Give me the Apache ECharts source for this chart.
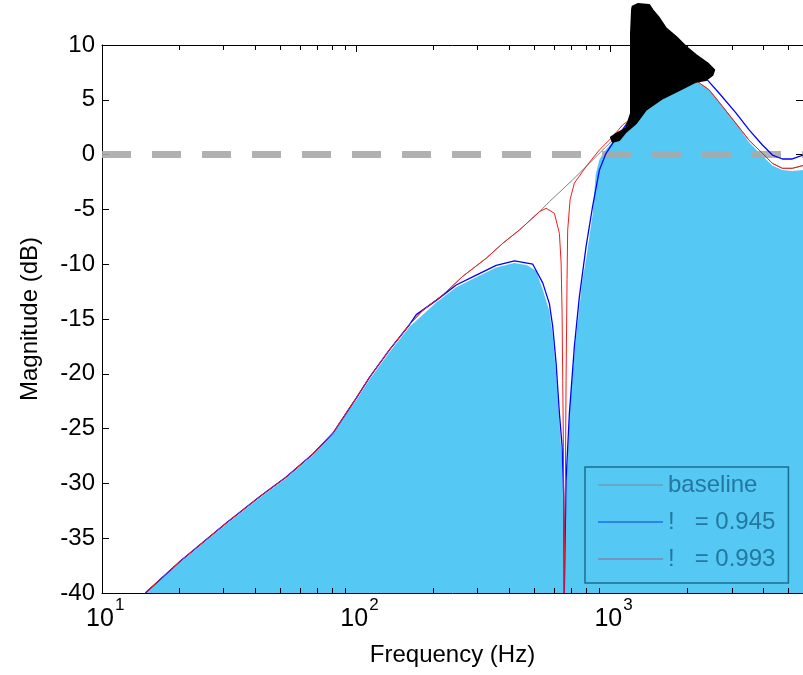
<!DOCTYPE html>
<html><head><meta charset="utf-8">
<script src="https://cdn.jsdelivr.net/npm/echarts@6/dist/echarts.min.js"></script>
<style>html,body{margin:0;padding:0;background:#fff}#c{width:803px;height:675px}</style>
</head><body><div id="c"></div>
<script>
// ---- axis settings / tick values ----
const xMin = 10, xMax = 5728;
const yMin = -40, yMax = 10, yStep = 5;
const xMajorTicks = [10, 100, 1000];
const xMinorTicks = [20,30,40,50,60,70,80,90,200,300,400,500,600,700,800,900,2000,3000,4000,5000];
const seriesNames = ['baseline', '!   = 0.945', '!   = 0.993'];

// ---- baseline (grey) ----
const baseFreq = [14.8,20.3,30.9,41.8,53.2,67.7,81.1,94.3,100.2,113,135.4,162.3,183,219.3,262.8,324.8,377.5,438.9,526,575.6,711,778,961.7,1084,1262,1654,1953,2203,2449,2762,3119,3516,3966,4342,4753,5200,5728];
const baseDb   = [-40,-37.1,-33.6,-31.2,-29.4,-27.3,-25.4,-23.1,-22.2,-20.3,-17.8,-15.5,-14.2,-12.8,-11.1,-9.46,-8.09,-6.88,-5.21,-4.3,-2.3,-1.4,0.72,1.9,3.6,5.7,6.4,6.65,5.9,4.4,2.85,1.3,0.12,-0.8,-1.25,-1.25,-1.0];

// ---- zeta = 0.945 (blue) ----
const blueFreq = [14.8,20.3,30.9,41.8,53.2,67.7,81.1,94.3,100.2,113,135.4,162.3,172.4,206.6,247.6,296.8,355.5,419.7,495.2,542,575.6,593.4,611.9,630.4,646,655.5,659,669.6,690,722,755.3,802.6,851,905,961.7,1021,1262,1654,2172,2412,2681,3119,3516,3966,4342,4753,5200,5728];
const blueDb   = [-40,-37.1,-33.6,-31.2,-29.4,-27.3,-25.4,-23.1,-22.2,-20.3,-17.8,-15.5,-14.6,-13.3,-11.9,-11.0,-10.1,-9.7,-10.0,-11.7,-13.6,-15.7,-19.05,-23.6,-26.6,-31.2,-40,-29.7,-23.6,-17.5,-12.98,-8.4,-4.76,-1.43,0.12,1.03,4.0,6.1,7.0,6.8,5.6,3.8,2.25,0.88,-0.04,-0.4,-0.4,-0.04];

// ---- zeta = 0.993 (red) ----
const redFreq = [14.8,20.3,30.9,41.8,53.2,67.7,81.1,94.3,100.2,113,135.4,162.3,183,219.3,262.8,324.8,377.5,438.9,526,559,567,602.6,630.4,640.2,646,649.6,653.7,655.5,657,665.6,669.6,675.6,679.5,694.4,722,802.6,905,1021,1117,1262,1654,1953,2203,2449,2762,3119,3516,3966,4342,4753,5200,5728];
const redDb   = [-40,-37.1,-33.6,-31.2,-29.4,-27.3,-25.4,-23.1,-22.2,-20.3,-17.8,-15.5,-14.2,-12.8,-11.1,-9.46,-8.09,-6.88,-5.21,-4.9,-5.0,-5.36,-7.2,-9.9,-14.5,-20.6,-26.7,-32.7,-40,-29.7,-20.6,-11.4,-6.9,-4.1,-2.6,-1.1,0.42,1.63,2.7,3.6,5.7,6.4,6.65,5.9,4.4,2.85,1.3,0.12,-0.8,-1.25,-1.25,-1.0];

// ---- shaded region (light blue) ----
const fillFreq = [14.8,20.3,30.9,41.8,53.2,67.7,81.1,94.3,100.2,113,135.4,162.3,206.6,247.6,296.8,355.5,419.7,470,510,542,575.6,593.4,611.9,630.4,646,655.5,660,668,672,695,730,776,802.6,851,876,905,935,1021,1262,1654,2172,2449,2762,3119,3516,3966,4342,4753,5200,5728];
const fillDb   = [-40,-37.2,-33.7,-31.3,-29.5,-27.4,-25.5,-23.2,-22.4,-20.5,-18.0,-15.7,-13.5,-12.1,-11.2,-10.3,-9.9,-10.1,-10.6,-12.3,-14.3,-16.5,-20,-24.5,-28,-33,-40,-40,-30,-22.5,-17,-11.5,-9.6,-5.5,-1.8,-0.5,0.12,1.2,3.3,5.3,6.65,5.9,4.4,2.85,1.1,-0.1,-1.0,-1.4,-1.5,-1.4];

// ---- black blob above the peak ----
const blobFreq = [1223,1281,1423,1466,1558,1655,1812,1984,2172,2412,2562,2523,2377,2172,1867,1605,1380,1262,1153,1085,1021,1006,1037,1153,1206,1206,1217];
const blobDb   = [13.49,13.74,13.65,13.19,12.44,11.52,10.76,9.85,9.09,8.33,7.72,7.26,6.81,6.65,5.89,5.14,4.07,2.86,2.09,1.34,1.18,1.58,1.79,2.40,3.77,11.07,13.19];

// ---- reference line ----
const refLineFreq = [xMin, xMax];
const refLineDb = [0, 0];

const zip = (a, b) => a.map((v, i) => [v, b[i]]);
const FONT = 'Liberation Sans, Arial, Helvetica, sans-serif';

const chart = echarts.init(document.getElementById('c'), null, {renderer: 'canvas'});
chart.setOption({
  animation: false,
  backgroundColor: '#fff',
  grid: {left: 102, top: 45, width: 702, height: 548, containLabel: false},
  xAxis: [{
    type: 'log', logBase: 10, min: xMin, max: xMax, interval: 1, position: 'bottom',
    name: 'Frequency (Hz)', nameLocation: 'middle', nameGap: 50,
    nameTextStyle: {fontSize: 24, color: '#000', fontFamily: FONT},
    axisLine: {show: true, onZero: false, lineStyle: {color: '#000', width: 1}},
    axisTick: {show: true, inside: true, length: 7, lineStyle: {color: '#000'}},
    splitLine: {show: false},
    axisLabel: {show: false}
  }, {
    type: 'log', logBase: 10, min: xMin, max: xMax, interval: 1, position: 'top',
    axisLine: {show: true, onZero: false, lineStyle: {color: '#000', width: 1}},
    axisTick: {show: true, inside: true, length: 7, lineStyle: {color: '#000'}},
    axisLabel: {show: false}, splitLine: {show: false}
  }],
  yAxis: [{
    type: 'value', min: yMin, max: yMax, interval: yStep,
    name: 'Magnitude (dB)', nameLocation: 'middle', nameGap: 60,
    nameTextStyle: {fontSize: 24, color: '#000', fontFamily: FONT},
    axisLine: {show: true, onZero: false, lineStyle: {color: '#000', width: 1}},
    axisTick: {show: true, inside: true, length: 7, lineStyle: {color: '#000'}},
    axisLabel: {fontSize: 24, color: '#000', fontFamily: FONT, margin: 7},
    splitLine: {show: false}
  }, {
    type: 'value', min: yMin, max: yMax, interval: yStep, position: 'right',
    axisLine: {show: true, onZero: false, lineStyle: {color: '#000', width: 1}},
    axisTick: {show: true, inside: true, length: 7, lineStyle: {color: '#000'}},
    axisLabel: {show: false}, splitLine: {show: false}
  }],
  legend: {
    orient: 'vertical', left: 585, top: 467,
    padding: [4, 13, 10, 13], itemWidth: 65, itemHeight: 1.5, itemGap: 9,
    icon: 'rect',
    borderColor: '#1b6d8e', borderWidth: 1.5, backgroundColor: 'transparent',
    textStyle: {fontSize: 24, color: '#2478a0', fontFamily: FONT, lineHeight: 28},
    data: [
      {name: seriesNames[0], icon: 'rect', itemStyle: {color: '#6c9fb6', borderWidth: 0}},
      {name: seriesNames[1], icon: 'rect', itemStyle: {color: '#1f6ef2', borderWidth: 0}},
      {name: seriesNames[2], icon: 'rect', itemStyle: {color: '#7b86b2', borderWidth: 0}}
    ]
  },
  series: [
    {
      name: 'fill', type: 'line', data: zip(fillFreq, fillDb), symbol: 'none', silent: true,
      lineStyle: {width: 0, opacity: 0}, areaStyle: {color: '#55c8f3', opacity: 1, origin: 'start'}, z: 1
    },
    {
      name: 'ref', type: 'line', data: zip(refLineFreq, refLineDb), symbol: 'none', silent: true,
      lineStyle: {color: '#a8a8a8', opacity: 0.9, width: 7, type: [29, 21], cap: 'butt'}, z: 2
    },
    {
      name: seriesNames[0], type: 'line', data: zip(baseFreq, baseDb), symbol: 'none',
      lineStyle: {color: '#808080', width: 1}, z: 3
    },
    {
      name: seriesNames[1], type: 'line', data: zip(blueFreq, blueDb), symbol: 'none',
      lineStyle: {color: '#0000ff', width: 1.3}, z: 4
    },
    {
      name: seriesNames[2], type: 'line', data: zip(redFreq, redDb), symbol: 'none',
      lineStyle: {color: '#f21c1c', width: 1}, z: 5
    },
    {
      name: 'xTickLabels', type: 'custom', silent: true, clip: false, z: 20,
      data: xMajorTicks.map(v => [v, yMin]),
      renderItem: (params, api) => {
        const v = api.value(0);
        const c = api.coord([v, yMin]);
        const e = Math.round(Math.log10(v));
        return {type: 'group', children: [
          {type: 'text', x: c[0] - 2, y: c[1] + 14,
           style: {text: '10', fontSize: 25, fontFamily: FONT, fill: '#000', align: 'center', verticalAlign: 'top'}},
          {type: 'text', x: c[0] + 13, y: c[1] + 4,
           style: {text: String(e), fontSize: 17, fontFamily: FONT, fill: '#000', align: 'left', verticalAlign: 'top'}}
        ]};
      }
    },
    {
      name: 'minorTicks', type: 'custom', silent: true, clip: false, z: 20,
      data: xMinorTicks.map(v => [v, yMin]),
      renderItem: (params, api) => {
        const v = api.value(0);
        const b = api.coord([v, yMin]);
        const t = api.coord([v, yMax]);
        const x = Math.round(b[0]) + 0.5;
        return {type: 'group', children: [
          {type: 'line', shape: {x1: x, y1: b[1], x2: x, y2: b[1] - 5}, style: {stroke: '#000', lineWidth: 1}},
          {type: 'line', shape: {x1: x, y1: t[1], x2: x, y2: t[1] + 5}, style: {stroke: '#000', lineWidth: 1}}
        ]};
      }
    },
    {
      name: 'blob', type: 'custom', silent: true, clip: false, z: 10,
      data: [[blobFreq[0], blobDb[0]]],
      renderItem: (params, api) => {
        const pts = blobFreq.map((f, i) => api.coord([f, blobDb[i]]));
        return {type: 'polygon', shape: {points: pts}, style: {fill: '#000', stroke: '#000', lineWidth: 2, lineJoin: 'round'}};
      }
    }
  ]
});
</script>
</body></html>
